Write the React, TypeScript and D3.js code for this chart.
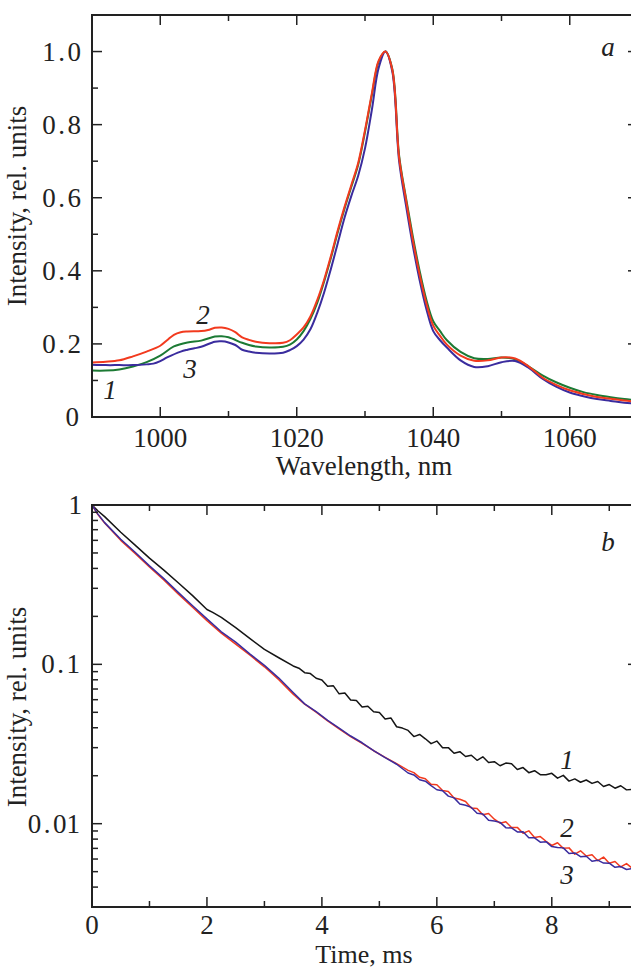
import React from "react";
import * as d3 from "d3";

// ---------- Panel a: spectra ----------
const wl1 = [990,992,994,996,998,1000,1002,1004,1006,1008,1009,1010,1012,1013,1014,1016,1018,1019,1020,1021,1022,1023,1024,1025,1026,1027,1028,1029,1030,1031,1032,1033,1034,1035,1036,1037,1038,1039,1040,1041,1042,1044,1046,1048,1050,1052,1054,1056,1058,1060,1062,1064,1066,1068,1070];
const int1 = [0.127,0.127,0.13,0.138,0.15,0.168,0.193,0.204,0.209,0.22,0.221,0.218,0.203,0.197,0.193,0.19,0.192,0.198,0.212,0.235,0.268,0.312,0.37,0.435,0.505,0.57,0.63,0.69,0.78,0.88,0.972,1.0,0.952,0.715,0.6,0.495,0.4,0.32,0.262,0.235,0.21,0.178,0.161,0.159,0.163,0.158,0.138,0.114,0.095,0.08,0.068,0.06,0.054,0.049,0.045];

const wl2 = [990,992,994,996,998,1000,1001,1002,1003,1004,1006,1007,1008,1009,1010,1011,1012,1013,1014,1016,1018,1019,1020,1021,1022,1023,1024,1025,1026,1027,1028,1029,1030,1031,1032,1033,1034,1035,1036,1037,1038,1039,1040,1041,1042,1044,1046,1048,1050,1052,1054,1056,1058,1060,1062,1064,1066,1068,1070];
const int2 = [0.149,0.151,0.155,0.166,0.179,0.195,0.21,0.225,0.232,0.234,0.235,0.238,0.244,0.245,0.241,0.232,0.218,0.211,0.206,0.202,0.203,0.21,0.226,0.245,0.275,0.32,0.375,0.44,0.51,0.575,0.635,0.695,0.785,0.885,0.975,1.0,0.95,0.71,0.595,0.485,0.39,0.31,0.25,0.222,0.198,0.168,0.154,0.155,0.163,0.16,0.138,0.108,0.088,0.073,0.063,0.055,0.05,0.045,0.041];

const wl3 = [990,992,994,996,998,999,1000,1001,1003,1004,1005,1006,1008,1009,1010,1011,1012,1013,1014,1016,1018,1019,1020,1021,1022,1023,1024,1025,1026,1027,1028,1029,1030,1031,1032,1033,1034,1035,1036,1037,1038,1039,1040,1041,1042,1044,1046,1048,1050,1052,1054,1056,1058,1060,1062,1064,1066,1068,1070];
const int3 = [0.143,0.142,0.142,0.142,0.144,0.146,0.153,0.163,0.179,0.184,0.188,0.192,0.206,0.207,0.204,0.197,0.184,0.179,0.176,0.174,0.176,0.183,0.194,0.212,0.24,0.285,0.34,0.405,0.475,0.545,0.605,0.66,0.735,0.84,0.955,1.0,0.945,0.7,0.58,0.47,0.375,0.295,0.235,0.21,0.19,0.155,0.137,0.139,0.15,0.153,0.134,0.105,0.083,0.067,0.057,0.049,0.044,0.039,0.036];

const xTicksA = [1000, 1020, 1040, 1060];
const xMinorA = [990, 1010, 1030, 1050, 1070];
const yTicksA = [0, 0.2, 0.4, 0.6, 0.8, 1.0];
const yTickLabelsA = ["0", "0.2", "0.4", "0.6", "0.8", "1.0"];
const yMinorA = [0.1, 0.3, 0.5, 0.7, 0.9];

// ---------- Panel b: decay kinetics ----------
const tB1 = [0,0.1,0.22,0.5,0.75,1.0,1.25,1.5,1.75,2.0,2.1,2.25,2.5,2.75,3.0,3.25,3.5,
  3.6,3.7,3.8,3.9,4.0,4.1,4.2,4.3,4.4,4.5,4.6,4.7,4.8,4.9,5.0,5.1,5.2,5.3,5.4,5.5,5.6,5.7,5.8,5.9,6.0,6.1,6.2,6.3,6.4,6.5,6.6,6.7,6.8,6.9,7.0,7.1,7.2,7.3,7.4,7.5,7.6,7.7,7.8,7.9,8.0,8.1,8.2,8.3,8.4,8.5,8.6,8.7,8.8,8.9,9.0,9.1,9.2,9.3,9.4,9.5];
const iB1 = [1.0,0.92,0.845,0.675,0.56,0.464,0.39,0.325,0.27,0.221,0.212,0.197,0.17,0.145,0.124,0.11,0.0977,
  0.0946,0.0887,0.0875,0.0818,0.0798,0.0729,0.0733,0.0653,0.0661,0.0597,0.0592,0.054,0.0546,0.0504,0.0498,0.0454,0.0461,0.0406,0.0398,0.0385,0.0352,0.0363,0.0341,0.0318,0.033,0.03,0.03,0.0277,0.0283,0.0264,0.0269,0.025,0.0263,0.0242,0.0245,0.0231,0.024,0.0238,0.0219,0.0225,0.0209,0.0215,0.0203,0.0203,0.0207,0.0193,0.0201,0.0185,0.0191,0.0182,0.0188,0.0179,0.0184,0.0171,0.0176,0.0167,0.0173,0.0163,0.0164,0.0154];

const tB23 = [0,0.1,0.22,0.5,0.75,1.0,1.25,1.5,1.75,2.0,2.25,2.5,2.75,3.0,3.25,3.5,3.7,3.9,4.1,4.3,4.5,4.7,4.9,5.1,5.3,
  5.5,5.6,5.7,5.8,5.9,6.0,6.1,6.2,6.3,6.4,6.5,6.6,6.7,6.8,6.9,7.0,7.1,7.2,7.3,7.4,7.5,7.6,7.7,7.8,7.9,8.0,8.1,8.2,8.3,8.4,8.5,8.6,8.7,8.8,8.9,9.0,9.1,9.2,9.3,9.4,9.5];
const iB2 = [1.0,0.875,0.77,0.6,0.497,0.408,0.338,0.277,0.228,0.188,0.157,0.134,0.114,0.0965,0.08,0.065,0.0562,0.0502,0.0442,0.0394,0.0352,0.0319,0.0287,0.0261,0.0238,
  0.0216,0.0209,0.01954,0.01914,0.0177,0.01754,0.01614,0.01592,0.01449,0.01422,0.01377,0.01256,0.01245,0.01138,0.01159,0.01067,0.01007,0.01028,0.00946,0.00948,0.00871,0.00902,0.0082,0.0083,0.00776,0.0073,0.00759,0.007,0.00705,0.00644,0.00676,0.00627,0.00638,0.00586,0.00617,0.00564,0.00579,0.00535,0.00562,0.00524,0.00531];
const iB3 = [1.0,0.88,0.775,0.61,0.505,0.415,0.345,0.283,0.233,0.193,0.16,0.138,0.116,0.0985,0.082,0.0665,0.0565,0.0505,0.0445,0.0398,0.0355,0.0322,0.0287,0.026,0.0236,
  0.0208,0.02023,0.01888,0.01849,0.01734,0.01633,0.0161,0.01489,0.01452,0.0133,0.01306,0.01265,0.01164,0.01151,0.0105,0.0104,0.01019,0.00944,0.0094,0.00887,0.00889,0.00817,0.00815,0.00766,0.00771,0.00718,0.0071,0.00705,0.0065,0.00655,0.00621,0.00625,0.00581,0.0059,0.00566,0.00565,0.00532,0.00538,0.00516,0.00522,0.00499];

const xTicksB = [0, 2, 4, 6, 8];
const xMinorB = [1, 3, 5, 7, 9];
const yTicksB = [1, 0.1, 0.01];
const yTickLabelsB = ["1", "0.1", "0.01"];
const yMinorB = [0.004,0.005,0.006,0.007,0.008,0.009,0.02,0.03,0.04,0.05,0.06,0.07,0.08,0.09,0.2,0.3,0.4,0.5,0.6,0.7,0.8,0.9];

const RED = "#f23a1e";
const GREEN = "#1c7a34";
const BLUE = "#3a2c9e";
const BLACK = "#151515";
const AX = "#222";
const FONT = "Liberation Serif, Times New Roman, Times, serif";

function Decimal({ label, x, y }: { label: string; x: number; y: number }) {
  const parts = label.split(".");
  if (parts.length === 1) return <text x={x} y={y} textAnchor="end">{label}</text>;
  return (
    <text x={x} y={y} textAnchor="end">
      {parts[0]}
      <tspan dx={2.5}>.</tspan>
      <tspan dx={2.5}>{parts[1]}</tspan>
    </text>
  );
}

export default function App() {
  const L = 92, R = 638;
  const xA = d3.scaleLinear().domain([990, 1070]).range([L, R]);
  const yA = d3.scaleLinear().domain([0, 1.1]).range([417, 15]);
  const xB = d3.scaleLinear().domain([0, 9.5]).range([L, R]);
  const yB = d3.scaleLog().domain([0.003, 1]).range([907, 505]);

  const lineA = (xs: number[], ys: number[]) =>
    d3.line<number>().x((_, i) => xA(xs[i])).y((d) => yA(d)).curve(d3.curveCatmullRom.alpha(0.5))(ys) || "";
  const lineB = (xs: number[], ys: number[]) =>
    d3.line<number>().x((_, i) => xB(xs[i])).y((d) => yB(d))(ys) || "";

  const MAJ = 10, MIN = 6;
  const FS = 27;

  const frame = (x0: number, y0: number, x1: number, y1: number) => (
    <rect x={x0} y={y0} width={x1 - x0} height={y1 - y0} fill="none" stroke={AX} strokeWidth={2} />
  );

  const [a0, a1] = yA.range();
  const [b0, b1] = yB.range();

  return (
    <svg width={631} height={969} style={{ position: "absolute", left: 0, top: 0, background: "#fff", fontFamily: FONT }}>
      <rect x={0} y={0} width={631} height={969} fill="#fff" />
      {/* ---------- Panel a ---------- */}
      <g>
        <clipPath id="clipA"><rect x={L} y={a1} width={R - L} height={a0 - a1} /></clipPath>
        <g clipPath="url(#clipA)" fill="none" strokeWidth={2} strokeLinejoin="round">
          <path d={lineA(wl1, int1)} stroke={GREEN} />
          <path d={lineA(wl3, int3)} stroke={BLUE} />
          <path d={lineA(wl2, int2)} stroke={RED} />
        </g>
        {frame(L, a1, R, a0)}
        <g stroke={AX} strokeWidth={1.5}>
          {xTicksA.map((t) => (
            <g key={"xa" + t}>
              <line x1={xA(t)} x2={xA(t)} y1={a0} y2={a0 - MAJ} />
              <line x1={xA(t)} x2={xA(t)} y1={a1} y2={a1 + MAJ} />
            </g>
          ))}
          {xMinorA.map((t) => (
            <g key={"xma" + t}>
              <line x1={xA(t)} x2={xA(t)} y1={a0} y2={a0 - MIN} />
              <line x1={xA(t)} x2={xA(t)} y1={a1} y2={a1 + MIN} />
            </g>
          ))}
          {yTicksA.map((t) => (
            <g key={"ya" + t}>
              <line x1={L} x2={L + MAJ} y1={yA(t)} y2={yA(t)} />
              <line x1={R} x2={R - MAJ} y1={yA(t)} y2={yA(t)} />
            </g>
          ))}
          {yMinorA.map((t) => (
            <g key={"yma" + t}>
              <line x1={L} x2={L + MIN} y1={yA(t)} y2={yA(t)} />
              <line x1={R} x2={R - MIN} y1={yA(t)} y2={yA(t)} />
            </g>
          ))}
        </g>
        <g fontSize={FS} fill="#222">
          {xTicksA.map((t) => (
            <text key={"xla" + t} x={xA(t)} y={447} textAnchor="middle">{t}</text>
          ))}
          {yTicksA.map((t, i) => (
            <Decimal key={"yla" + t} label={yTickLabelsA[i]} x={t === 0 ? 79 : 81} y={yA(t) + 9} />
          ))}
          <text x={364} y={475} textAnchor="middle">Wavelength, nm</text>
          <text transform={`translate(26,206) rotate(-90)`} textAnchor="middle">Intensity, rel. units</text>
        </g>
        <g fontSize={FS} fontStyle="italic" fill="#222">
          <text x={608} y={56} textAnchor="middle">a</text>
          <text x={110} y={399} textAnchor="middle">1</text>
          <text x={203} y={324} textAnchor="middle">2</text>
          <text x={190} y={378} textAnchor="middle">3</text>
        </g>
      </g>

      {/* ---------- Panel b ---------- */}
      <g>
        <clipPath id="clipB"><rect x={L} y={b1} width={R - L} height={b0 - b1} /></clipPath>
        <g clipPath="url(#clipB)" fill="none" strokeWidth={1.5} strokeLinejoin="round">
          <path d={lineB(tB1, iB1)} stroke={BLACK} />
          <path d={lineB(tB23, iB2)} stroke={RED} />
          <path d={lineB(tB23, iB3)} stroke={BLUE} />
        </g>
        {frame(L, b1, R, b0)}
        <g stroke={AX} strokeWidth={1.5}>
          {xTicksB.map((t) => (
            <g key={"xb" + t}>
              <line x1={xB(t)} x2={xB(t)} y1={b0} y2={b0 - MAJ} />
              <line x1={xB(t)} x2={xB(t)} y1={b1} y2={b1 + MAJ} />
            </g>
          ))}
          {xMinorB.map((t) => (
            <g key={"xmb" + t}>
              <line x1={xB(t)} x2={xB(t)} y1={b0} y2={b0 - MIN} />
              <line x1={xB(t)} x2={xB(t)} y1={b1} y2={b1 + MIN} />
            </g>
          ))}
          {yTicksB.map((t) => (
            <g key={"yb" + t}>
              <line x1={L} x2={L + MAJ} y1={yB(t)} y2={yB(t)} />
              <line x1={R} x2={R - MAJ} y1={yB(t)} y2={yB(t)} />
            </g>
          ))}
          {yMinorB.map((t) => (
            <g key={"ymb" + t}>
              <line x1={L} x2={L + MIN} y1={yB(t)} y2={yB(t)} />
              <line x1={R} x2={R - MIN} y1={yB(t)} y2={yB(t)} />
            </g>
          ))}
        </g>
        <g fontSize={FS} fill="#222">
          {xTicksB.map((t) => (
            <text key={"xlb" + t} x={xB(t)} y={934} textAnchor="middle">{t}</text>
          ))}
          {yTicksB.map((t, i) => (
            <Decimal key={"ylb" + t} label={yTickLabelsB[i]} x={t === 1 ? 82 : 80} y={yB(t) + 9} />
          ))}
          <text x={364} y={963} fontSize={26} textAnchor="middle">Time, ms</text>
          <text transform={`translate(26,707) rotate(-90)`} textAnchor="middle">Intensity, rel. units</text>
        </g>
        <g fontSize={FS} fontStyle="italic" fill="#222">
          <text x={608} y={551} textAnchor="middle">b</text>
          <text x={567} y={769} textAnchor="middle">1</text>
          <text x={567} y={837} textAnchor="middle">2</text>
          <text x={567} y={884} textAnchor="middle">3</text>
        </g>
      </g>
    </svg>
  );
}
